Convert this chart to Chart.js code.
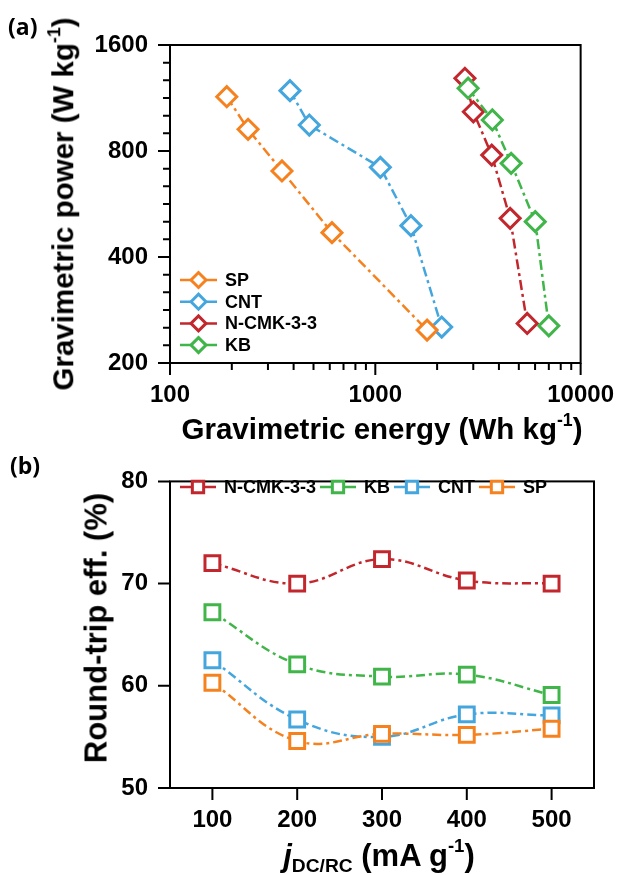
<!DOCTYPE html>
<html>
<head>
<meta charset="utf-8">
<script src="https://cdn.jsdelivr.net/npm/chart.js@4.4.1/dist/chart.umd.min.js"></script>
<style>
html, body { margin: 0; padding: 0; background: #fff; }
#wrap { position: relative; width: 632px; height: 875px; overflow: hidden;
        font-family: "Liberation Sans", Arial, sans-serif; font-weight: bold; color: #000; }
canvas { position: absolute; left: 0; }
.lbl { position: absolute; white-space: nowrap; line-height: 1; transform: translate(-50%, -50%); }
.ttl { font-size: 29.5px; }
.ttl2 { font-size: 31px; }
.rot { transform: translate(-50%, -50%) rotate(-90deg); }
.panel { position: absolute; font-family: "Open Sans", sans-serif; font-size: 23px; line-height: 1; }
sup { font-size: 60%; vertical-align: 0.75em; line-height: 0; }
sub { font-size: 62%; vertical-align: -0.35em; line-height: 0; }
</style>
</head>
<body>
<div id="wrap">
  <canvas id="ragone" width="632" height="445" style="top:0"></canvas>
  <canvas id="eff" width="632" height="430" style="top:445px"></canvas>

  <div class="panel" style="left:8px; top:15px">(a)</div>
  <div class="panel" style="left:10px; top:454px">(b)</div>

  <div class="lbl ttl rot" style="left:63px; top:204px">Gravimetric power (W kg<sup>-1</sup>)</div>
  <div class="lbl ttl" style="left:382px; top:429px">Gravimetric energy (Wh kg<sup>-1</sup>)</div>
  <div class="lbl ttl2 rot" style="left:96px; top:628px">Round-trip eff. (%)</div>
  <div class="lbl ttl2" style="left:379px; top:855px"><i>j</i><sub>DC/RC</sub> (mA g<sup>-1</sup>)</div>
</div>

<script>
// ===== DATA =====
// (a) Ragone plot
const spEnergy = [189, 240, 351, 615, 1787];
const spPower = [1141, 922, 702, 469, 248];
const cntEnergy = [384, 477, 1058, 1491, 2105];
const cntPower = [1187, 948, 719, 491, 253];
const ncmkEnergy = [2731, 3003, 3690, 4536, 5492];
const ncmkPower = [1287, 1034, 779, 515, 259];
const kbEnergy = [2831, 3715, 4587, 6013, 7000];
const kbPower = [1206, 980, 738, 504, 255];
const energyTicks = [100, 1000, 10000];
const powerTicks = [200, 400, 800, 1600];

// (b) round-trip efficiency vs current density
const currents = [100, 200, 300, 400, 500];
const ncmkEff = [72.0, 70.0, 72.4, 70.3, 70.0];
const kbEff = [67.2, 62.1, 60.9, 61.1, 59.1];
const cntEff = [62.5, 56.7, 55.0, 57.2, 57.1];
const spEff = [60.3, 54.6, 55.3, 55.2, 55.8];
const effTicks = [50, 60, 70, 80];

const ORANGE = '#f5821f';
const BLUE = '#45a6de';
const RED = '#c1272d';
const GREEN = '#40b549';

const tickFont = { family: 'Liberation Sans', size: 24, weight: 'bold' };
const pts = (xs, ys) => xs.map((x, i) => ({ x: x, y: ys[i] }));

// ===== PLUGINS =====
// box frame + outward ticks (minor ticks shorter)
const frameTicks = {
    id: 'frameTicks',
    afterDraw(chart) {
        const { ctx, chartArea: a } = chart;
        const xs = chart.scales.x, ys = chart.scales.y;
        ctx.save();
        ctx.strokeStyle = '#000';
        ctx.lineWidth = 2;
        ctx.setLineDash([]);
        ctx.beginPath();
        xs.ticks.forEach(t => {
            const px = xs.getPixelForValue(t.value);
            ctx.moveTo(px, a.bottom);
            ctx.lineTo(px, a.bottom + (t.minor ? 7 : 12));
        });
        ys.ticks.forEach(t => {
            const py = ys.getPixelForValue(t.value);
            ctx.moveTo(a.left, py);
            ctx.lineTo(a.left - (t.minor ? 7 : 12), py);
        });
        ctx.stroke();
        ctx.strokeRect(a.left, a.top, a.right - a.left, a.bottom - a.top);
        ctx.restore();
    }
};

// legend with a solid line through the marker
const lineLegend = {
    id: 'lineLegend',
    afterDraw(chart, args, opts) {
        const ctx = chart.ctx;
        ctx.save();
        ctx.font = opts.font;
        ctx.textBaseline = 'middle';
        let x = opts.x, y = opts.y;
        chart.data.datasets.forEach(ds => {
            ctx.setLineDash([]);
            ctx.strokeStyle = ds.borderColor;
            ctx.lineWidth = 2.5;
            ctx.beginPath();
            ctx.moveTo(x, y);
            ctx.lineTo(x + opts.lineLen, y);
            ctx.stroke();
            ctx.fillStyle = '#fff';
            ctx.lineWidth = ds.pointBorderWidth;
            Chart.helpers.drawPoint(ctx, {
                pointStyle: ds.pointStyle, radius: opts.radius,
                rotation: 0, borderWidth: ds.pointBorderWidth
            }, x + opts.lineLen / 2, y);
            ctx.fillStyle = '#000';
            ctx.fillText(ds.label, x + opts.lineLen + opts.textGap, y + 1);
            if (opts.horizontal) {
                x += opts.lineLen + opts.textGap + ctx.measureText(ds.label).width + opts.itemGap;
            } else {
                y += opts.rowGap;
            }
        });
        ctx.restore();
    }
};

// ===== (a) RAGONE CHART =====
function ragoneSet(label, xs, ys, color, order) {
    return {
        label: label,
        data: pts(xs, ys),
        borderColor: color,
        borderWidth: 2.5,
        borderDash: [10, 4, 3, 4],
        pointStyle: 'rectRot',
        pointRadius: 10,
        pointBorderWidth: 3,
        pointBorderColor: color,
        pointBackgroundColor: '#fff',
        tension: 0,
        order: order
    };
}

new Chart(document.getElementById('ragone').getContext('2d'), {
    type: 'line',
    data: {
        datasets: [
            ragoneSet('SP', spEnergy, spPower, ORANGE, 0),
            ragoneSet('CNT', cntEnergy, cntPower, BLUE, 1),
            ragoneSet('N-CMK-3-3', ncmkEnergy, ncmkPower, RED, 3),
            ragoneSet('KB', kbEnergy, kbPower, GREEN, 2)
        ]
    },
    options: {
        responsive: false,
        animation: false,
        devicePixelRatio: 1,
        events: [],
        layout: { padding: { top: 45, right: 38, left: 0, bottom: 0 } },
        plugins: {
            legend: { display: false },
            tooltip: { enabled: false },
            lineLegend: {
                x: 180, y: 280, rowGap: 21.7, lineLen: 37, textGap: 8,
                radius: 7.5, font: "bold 18px 'Liberation Sans'", horizontal: false
            }
        },
        scales: {
            x: {
                type: 'logarithmic',
                min: 100, max: 10000,
                grid: { display: false, drawTicks: false },
                border: { display: false },
                afterBuildTicks: s => {
                    const t = [];
                    for (let d = 0; d < energyTicks.length - 1; d++) {
                        for (let m = 1; m < 10; m++) {
                            t.push({ value: energyTicks[d] * m, minor: m > 1 });
                        }
                    }
                    t.push({ value: energyTicks[energyTicks.length - 1], minor: false });
                    s.ticks = t;
                },
                ticks: {
                    autoSkip: false, maxRotation: 0, padding: 18,
                    color: '#000', font: tickFont,
                    callback: (v, i, ticks) => ticks[i].minor ? '' : String(v)
                },
                afterFit: s => { s.height = 82; }
            },
            y: {
                type: 'logarithmic',
                min: 200, max: 1600,
                grid: { display: false, drawTicks: false },
                border: { display: false },
                afterBuildTicks: s => {
                    const t = [];
                    for (let d = 0; d < powerTicks.length - 1; d++) {
                        for (let k = 0; k < 6; k++) {
                            t.push({ value: powerTicks[d] * Math.pow(2, k / 6), minor: k > 0 });
                        }
                    }
                    t.push({ value: powerTicks[powerTicks.length - 1], minor: false });
                    s.ticks = t;
                },
                ticks: {
                    autoSkip: false, padding: 22,
                    color: '#000', font: tickFont,
                    callback: (v, i, ticks) => ticks[i].minor ? '' : String(Math.round(v))
                },
                afterFit: s => { s.width = 170; }
            }
        }
    },
    plugins: [frameTicks, lineLegend]
});

// ===== (b) EFFICIENCY CHART =====
function effSet(label, ys, color, order) {
    return {
        label: label,
        data: pts(currents, ys),
        borderColor: color,
        borderWidth: 2.5,
        borderDash: [9, 4, 3, 4],
        pointStyle: 'rect',
        pointRadius: 10.5,
        pointBorderWidth: 3,
        pointBorderColor: color,
        pointBackgroundColor: '#fff',
        tension: 0.4,
        order: order
    };
}

new Chart(document.getElementById('eff').getContext('2d'), {
    type: 'line',
    data: {
        datasets: [
            effSet('N-CMK-3-3', ncmkEff, RED, 3),
            effSet('KB', kbEff, GREEN, 2),
            effSet('CNT', cntEff, BLUE, 1),
            effSet('SP', spEff, ORANGE, 0)
        ]
    },
    options: {
        responsive: false,
        animation: false,
        devicePixelRatio: 1,
        events: [],
        layout: { padding: { top: 25, right: 38, left: 0, bottom: 0 } },
        plugins: {
            legend: { display: false },
            tooltip: { enabled: false },
            lineLegend: {
                x: 180, y: 42, lineLen: 36, textGap: 8, itemGap: 4,
                radius: 8, font: "bold 18px 'Liberation Sans'", horizontal: true
            }
        },
        scales: {
            x: {
                type: 'linear',
                min: 50, max: 550,
                grid: { display: false, drawTicks: false },
                border: { display: false },
                afterBuildTicks: s => { s.ticks = currents.map(v => ({ value: v })); },
                ticks: { autoSkip: false, maxRotation: 0, padding: 18, color: '#000', font: tickFont },
                afterFit: s => { s.height = 87; }
            },
            y: {
                type: 'linear',
                min: 50, max: 80,
                grid: { display: false, drawTicks: false },
                border: { display: false },
                afterBuildTicks: s => { s.ticks = effTicks.map(v => ({ value: v })); },
                ticks: { autoSkip: false, padding: 22, color: '#000', font: tickFont },
                afterFit: s => { s.width = 170; }
            }
        }
    },
    plugins: [frameTicks, lineLegend]
});
</script>
</body>
</html>
